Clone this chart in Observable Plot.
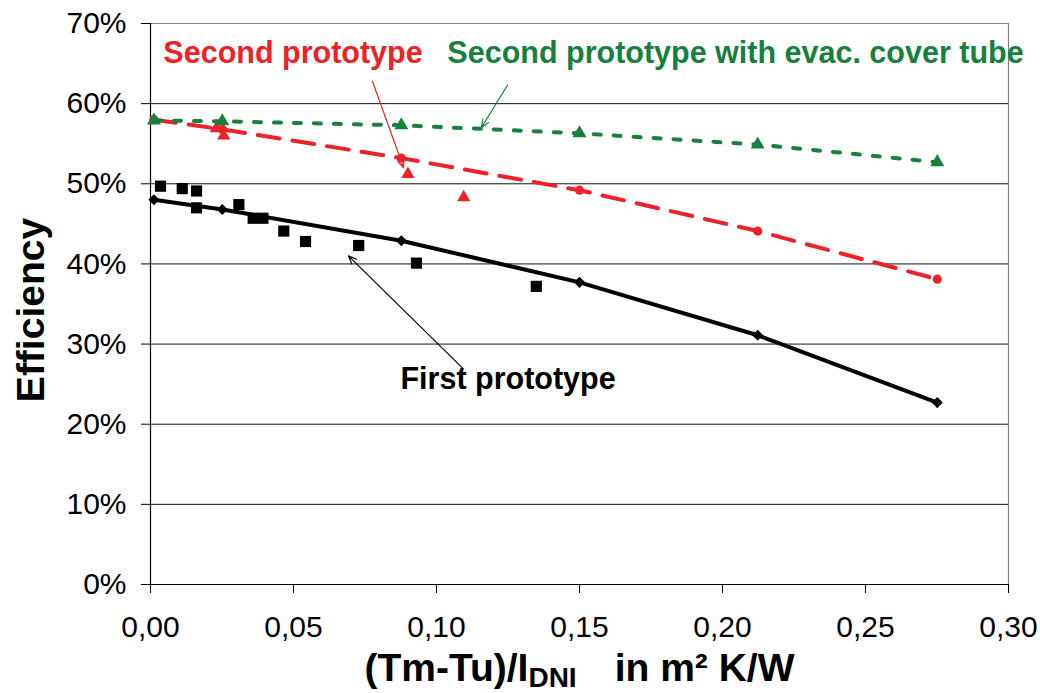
<!DOCTYPE html>
<html>
<head>
<meta charset="utf-8">
<script src="https://cdn.jsdelivr.net/npm/d3@7"></script>
<script src="https://cdn.jsdelivr.net/npm/@observablehq/plot@0.6"></script>
<style>
  html, body { margin: 0; padding: 0; background: #fff; }
  #chart svg { display: block; }
</style>
</head>
<body>
<div id="chart"></div>
<script>
// Model curves (evaluated at the same x positions)
const modelX      = [0.0012, 0.0251, 0.0877, 0.150, 0.2123, 0.2751];
const firstModel  = [48.0, 46.8, 42.9, 37.7, 31.1, 22.7];
const secondModel = [58.0, 56.8, 53.2, 49.2, 44.1, 38.1];
const evacModel   = [57.9, 57.8, 57.3, 56.3, 54.9, 52.7];

// Measured points
const firstMeasX  = [0.0035, 0.0111, 0.0161, 0.0161, 0.0309, 0.0359, 0.0393, 0.0466, 0.0542, 0.0728, 0.0930, 0.1349];
const firstMeasY  = [49.7, 49.4, 49.1, 47.0, 47.4, 45.7, 45.7, 44.1, 42.8, 42.3, 40.1, 37.2];
const secondMeasX = [0.023, 0.0256, 0.090, 0.1095];
const secondMeasY = [56.9, 56.0, 51.2, 48.3];

// Ticks
const xTicks = [0, 0.05, 0.10, 0.15, 0.20, 0.25, 0.30];
const yTicks = [0, 10, 20, 30, 40, 50, 60, 70];
const gridY  = [10, 20, 30, 40, 50, 60];

// Annotations
const labelText  = ["Second prototype", "Second prototype with evac. cover tube", "First prototype"];
const labelX     = [0.0045, 0.1038, 0.0874];
const labelY     = [65.1, 65.1, 24.4];
const labelColor = ["#ec2227", "#17803d", "#000000"];
const arrowX1 = [0.0776, 0.1248, 0.1094];
const arrowY1 = [62.8, 62.3, 26.9];
const arrowX2 = [0.0885, 0.1157, 0.0692];
const arrowY2 = [52.0, 57.0, 41.0];

const xTitle = "(Tm-Tu)/IDNI in m² K/W";
const yTitle = "Efficiency";

const RED = "#ec2227", GREEN = "#17803d";

const model = modelX.map((x, i) => ({x, first: firstModel[i], second: secondModel[i], evac: evacModel[i]}));
const firstMeas = firstMeasX.map((x, i) => ({x, y: firstMeasY[i]}));
const secondMeas = secondMeasX.map((x, i) => ({x, y: secondMeasY[i]}));
const labels = labelText.map((t, i) => ({t, x: labelX[i], y: labelY[i], c: labelColor[i]}));
const arrows = arrowX1.map((x1, i) => ({x1, y1: arrowY1[i], x2: arrowX2[i], y2: arrowY2[i], c: labelColor[i]}));

const chart = Plot.plot({
  width: 1040,
  height: 693,
  marginLeft: 150,
  marginRight: 32,
  marginTop: 23,
  marginBottom: 109,
  style: {fontFamily: "'Liberation Sans', Arial, sans-serif", background: "#fff"},
  x: {domain: [0, 0.30]},
  y: {domain: [0, 70]},
  marks: [
    Plot.ruleY(gridY, {stroke: "#111", strokeWidth: 1}),
    Plot.ruleY([70], {stroke: "#808080", strokeWidth: 1.2}),
    Plot.ruleX([0.30], {stroke: "#808080", strokeWidth: 1.2}),
    Plot.axisX({ticks: xTicks, tickSize: 9, tickPadding: 22, fontSize: 30, label: null,
      tickFormat: d => d.toFixed(2).replace(".", ","), stroke: "#000"}),
    Plot.axisY({ticks: yTicks, tickSize: 9, tickPadding: 15, fontSize: 30, label: null,
      tickFormat: d => d + "%", stroke: "#000"}),
    Plot.ruleX([0], {stroke: "#000", strokeWidth: 1.2}),
    Plot.ruleY([0], {stroke: "#000", strokeWidth: 1.2}),
    // First prototype
    Plot.dot(firstMeas, {x: "x", y: "y", symbol: "square", r: 6.3, fill: "#000", stroke: null}),
    Plot.line(model, {x: "x", y: "first", stroke: "#000", strokeWidth: 4}),
    Plot.dot(model, {x: "x", y: "first", symbol: "diamond2", r: 5, fill: "#000", stroke: null}),
    // Second prototype
    Plot.line(model, {x: "x", y: "second", stroke: RED, strokeWidth: 4, strokeDasharray: "22,13"}),
    Plot.dot(model, {x: "x", y: "second", symbol: "circle", r: 4.6, fill: RED, stroke: null}),
    Plot.dot(secondMeas, {x: "x", y: "y", symbol: "triangle", r: 4.9, fill: RED, stroke: null}),
    // Evacuated
    Plot.line(model, {x: "x", y: "evac", stroke: GREEN, strokeWidth: 4, strokeDasharray: "7,13"}),
    Plot.dot(model, {x: "x", y: "evac", symbol: "triangle", r: 5.2, fill: GREEN, stroke: null}),
    // Annotations
    Plot.arrow(arrows, {x1: "x1", y1: "y1", x2: "x2", y2: "y2", stroke: "c", strokeWidth: 1.2, headLength: 11, headAngle: 45}),
    Plot.text(labels, {x: "x", y: "y", text: "t", fill: "c", textAnchor: "start", lineAnchor: "bottom",
      fontSize: 30.5, fontWeight: "bold"}),
    Plot.text([yTitle], {frameAnchor: "left", textAnchor: "middle", lineAnchor: "middle", dx: -119, dy: 6, rotate: -90, text: d => d,
      fontSize: 39, fontWeight: "bold", fill: "#000"}),
    Plot.text([xTitle], {frameAnchor: "bottom", textAnchor: "middle", dy: 96, lineAnchor: "bottom", text: d => d,
      fontSize: 39, fontWeight: "bold", fill: "#000"})
  ]
});

document.getElementById("chart").appendChild(chart);

// Rebuild x title with subscript
d3.select(chart).selectAll("text").each(function() {
  if (this.textContent === xTitle) {
    const t = d3.select(this);
    t.text(null);
    t.append("tspan").text("(Tm-Tu)/I");
    t.append("tspan").attr("font-size", 28).attr("dy", 6).text("DNI");
    t.append("tspan").attr("dy", -6).attr("dx", 38).text("in m² K/W");
  }
});
</script>
</body>
</html>
